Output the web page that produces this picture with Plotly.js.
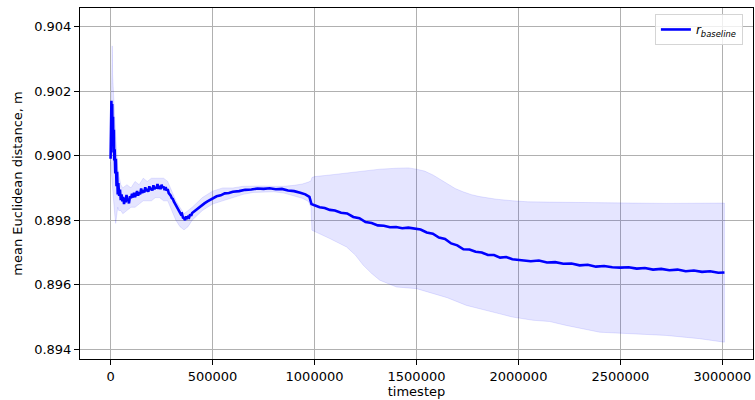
<!DOCTYPE html>
<html>
<head>
<meta charset="utf-8">
<script src="https://cdn.plot.ly/plotly-3.0.1.min.js"></script>
<style>
html,body{margin:0;padding:0;background:#fff;}
#chart{width:755px;height:400px;}
</style>
</head>
<body>
<div id="chart"></div>
<script>
// ---- data ----
const seriesName = "<i>r</i><sub><i>baseline</i></sub>";

const tMean = [0,2000,4000,6000,8000,10000,12000,14000,16000,18000,20000,23000,26000,29000,32000,35000,38000,
42000,46000,50000,54000,58000,62000,66000,70000,74000,78000,82000,86000,90000,95000,100000,
105000,110000,115000,120000,125000,130000,135000,140000,145000,150000,155000,160000,165000,170000,175000,180000,185000,190000,195000,200000,
205000,210000,215000,220000,225000,230000,235000,240000,245000,250000,255000,260000,265000,270000,275000,280000,285000,290000,295000,300000,
305000,310000,315000,320000,325000,330000,335000,340000,345000,350000,355000,360000,365000,370000,375000,380000,385000,390000,395000,400000,
415000,430000,445000,460000,475000,490000,505000,520000,540000,560000,580000,600000,630000,660000,690000,720000,750000,780000,810000,840000,
870000,900000,930000,955000,975000,985000,1000000,1025000,1050000,1075000,1100000,1130000,1160000,1190000,1220000,1250000,1280000,1310000,1340000,1370000,
1400000,1430000,1460000,1490000,1520000,1550000,1580000,1610000,1640000,1670000,1700000,1730000,1760000,1790000,1820000,1850000,1880000,1910000,1940000,1970000,
2000000,2030000,2060000,2100000,2140000,2180000,2220000,2260000,2300000,2340000,2380000,2420000,2460000,2500000,2540000,2580000,2620000,2660000,2700000,2740000,
2780000,2820000,2860000,2900000,2940000,2980000,3010000];

const meanDist = [0.89990,0.90110,0.90170,0.90060,0.90160,0.90030,0.90120,0.90010,0.90080,0.89985,0.90020,0.89945,0.89990,0.89905,0.89950,0.89880,0.89915,
0.89875,0.89895,0.89862,0.89880,0.89858,0.89872,0.89850,0.89868,0.89855,0.89878,0.89860,0.89866,0.89852,0.89874,0.89868,
0.89882,0.89870,0.89885,0.89872,0.89880,0.89890,0.89876,0.89886,0.89880,0.89898,0.89884,0.89893,0.89886,0.89902,0.89890,0.89897,0.89888,0.89905,0.89894,0.89900,
0.89892,0.89908,0.89896,0.89903,0.89898,0.89912,0.89897,0.89906,0.89896,0.89910,0.89900,0.89904,0.89893,0.89902,0.89892,0.89896,0.89884,0.89880,0.89876,0.89868,
0.89866,0.89858,0.89852,0.89846,0.89840,0.89838,0.89828,0.89826,0.89818,0.89820,0.89808,0.89806,0.89800,0.89812,0.89804,0.89810,0.89808,0.89818,0.89814,0.89822,
0.89830,0.89838,0.89844,0.89852,0.89858,0.89864,0.89868,0.89874,0.89877,0.89883,0.89884,0.89888,0.89890,0.89894,0.89895,0.89898,0.89897,0.89899,0.89896,0.89897,
0.89892,0.89890,0.89885,0.89880,0.89872,0.89850,0.89846,0.89840,0.89838,0.89832,0.89830,0.89823,0.89821,0.89810,0.89806,0.89794,0.89791,0.89784,0.89783,0.89778,
0.89779,0.89775,0.89777,0.89773,0.89771,0.89762,0.89758,0.89746,0.89742,0.89728,0.89722,0.89710,0.89709,0.89702,0.89700,0.89692,0.89692,0.89684,0.89686,0.89679,
0.89677,0.89677,0.89673,0.89675,0.89669,0.89670,0.89665,0.89666,0.89660,0.89662,0.89656,0.89658,0.89654,0.89653,0.89654,0.89650,0.89652,0.89647,0.89649,0.89645,
0.89647,0.89642,0.89644,0.89640,0.89642,0.89637,0.89638];

const tUpper = [0,3000,6000,8000,10000,13000,16000,20000,25000,30000,35000,40000,50000,60000,80000,100000,120000,140000,160000,180000,
200000,220000,240000,260000,280000,300000,320000,340000,360000,380000,400000,450000,500000,550000,600000,650000,700000,750000,800000,850000,
900000,940000,970000,983000,987000,1000000,1075000,1157000,1238000,1320000,1402000,1460000,1500000,1540000,1581000,1614000,1647000,1690000,1728000,1770000,
1810000,1892000,1973000,2046000,2150000,2234000,2398000,2561000,2724000,2887000,3010000];
const upperBand = [0.9000,0.9020,0.9028,0.9034,0.9025,0.9022,0.9016,0.9012,0.9006,0.9000,0.8996,0.8994,0.8991,0.8990,0.8991,0.8990,0.8992,0.8991,0.8993,0.8992,
0.8993,0.8993,0.8993,0.8993,0.8992,0.8989,0.8986,0.8984,0.8982,0.8983,0.8984,0.8987,0.8989,0.8990,0.8990,0.89905,0.89906,0.89906,0.89905,0.89905,
0.89908,0.89912,0.89918,0.89922,0.89932,0.89935,0.89940,0.89946,0.89953,0.89958,0.89961,0.89962,0.89958,0.89952,0.89940,0.89927,0.89914,0.89898,0.89888,0.89879,
0.89873,0.89865,0.89860,0.89857,0.89856,0.89855,0.89854,0.89853,0.89852,0.89853,0.89853];

const tLower = [0,3000,6000,10000,15000,20000,25000,30000,35000,40000,50000,60000,80000,100000,120000,140000,160000,180000,200000,220000,
240000,260000,280000,300000,320000,340000,360000,380000,400000,450000,500000,550000,600000,650000,700000,750000,800000,850000,900000,940000,
970000,983000,987000,1075000,1157000,1200000,1238000,1280000,1320000,1402000,1500000,1581000,1650000,1745000,1908000,1970000,2071000,2153000,2234000,2398000,
2561000,2724000,2887000,3010000];
const lowerBand = [0.8998,0.8996,0.8993,0.8990,0.8986,0.8982,0.8979,0.8982,0.8984,0.8983,0.8983,0.8982,0.8983,0.8984,0.8984,0.8985,0.8986,0.8986,0.8986,0.8987,
0.8987,0.8986,0.8986,0.8983,0.8980,0.8978,0.8977,0.8978,0.8980,0.8983,0.8985,0.8986,0.8987,0.8988,0.89886,0.89888,0.89888,0.89884,0.89876,0.89868,
0.89858,0.89840,0.89769,0.89743,0.89717,0.89692,0.89661,0.89635,0.89614,0.89593,0.89588,0.89573,0.89560,0.89536,0.89510,0.89500,0.89490,0.89486,0.89474,0.89453,
0.89448,0.89443,0.89433,0.89422];

const xTicks = [0,500000,1000000,1500000,2000000,2500000,3000000];
const xTickText = ["0","500000","1000000","1500000","2000000","2500000","3000000"];
const yTicks = [0.894,0.896,0.898,0.900,0.902,0.904];
const yTickText = ["0.894","0.896","0.898","0.900","0.902","0.904"];

// ---- traces ----
const bandX = tUpper.concat(tLower.slice().reverse());
const bandY = upperBand.concat(lowerBand.slice().reverse());

const band = {
  x: bandX, y: bandY, type: "scatter", mode: "lines",
  fill: "toself", fillcolor: "rgba(0,0,255,0.1)",
  line: {color: "rgba(0,0,255,0.1)", width: 1},
  showlegend: false, hoverinfo: "skip"
};
const meanLine = {
  x: tMean, y: meanDist, type: "scatter", mode: "lines",
  name: seriesName,
  line: {color: "#0000ff", width: 2.6}
};

const font = {family: "DejaVu Sans, sans-serif", size: 13, color: "#000"};

const layout = {
  width: 755, height: 400,
  margin: {l: 80, r: 2, t: 8, b: 41, pad: 0},
  paper_bgcolor: "#fff", plot_bgcolor: "#fff",
  font: font,
  showlegend: true,
  legend: {
    x: 0.985, y: 0.983, xanchor: "right", yanchor: "top",
    bgcolor: "rgba(255,255,255,0.8)", bordercolor: "#d5d5d5", borderwidth: 1,
    font: {family: "DejaVu Sans, sans-serif", size: 12, color: "#000"}
  },
  xaxis: {
    range: [-150000, 3150000],
    tickmode: "array", tickvals: xTicks, ticktext: xTickText,
    showgrid: true, gridcolor: "#b0b0b0", gridwidth: 1,
    zeroline: false, showline: true, linecolor: "#000", linewidth: 1, mirror: true,
    ticks: "outside", ticklen: 5, tickcolor: "#000", tickwidth: 1,
    tickfont: font,
    title: {text: "timestep", font: font, standoff: 3}
  },
  yaxis: {
    range: [0.8937, 0.904573],
    tickmode: "array", tickvals: yTicks, ticktext: yTickText,
    showgrid: true, gridcolor: "#b0b0b0", gridwidth: 1,
    zeroline: false, showline: true, linecolor: "#000", linewidth: 1, mirror: true,
    ticks: "outside", ticklen: 5, tickcolor: "#000", tickwidth: 1,
    tickfont: font,
    title: {text: "mean Euclidean distance, m", font: font, standoff: 8}
  }
};

Plotly.newPlot("chart", [band, meanLine], layout, {staticPlot: true, displayModeBar: false});
</script>
</body>
</html>
